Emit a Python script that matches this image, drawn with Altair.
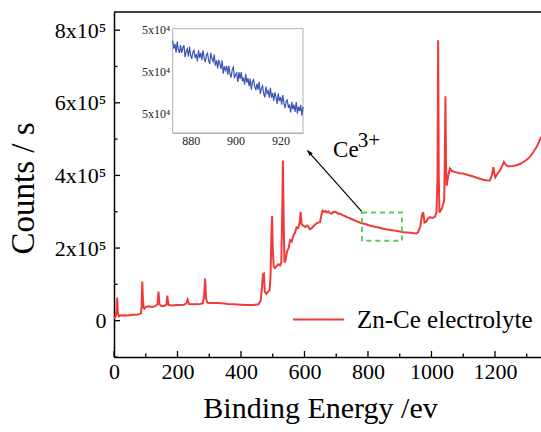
import altair as alt
import pandas as pd

# ---------------- data ----------------
series_name = "Zn-Ce electrolyte"

energy = [0, 3, 6, 8, 10, 12, 15, 20, 30, 40, 50, 60, 70, 80, 85, 87, 89, 91, 93, 96,
          100, 110, 120, 130, 137, 140, 143, 150, 160, 165, 168, 171, 180, 200, 220, 228,
          232, 236, 250, 270, 280, 284, 287, 290, 294, 300, 320, 340, 360, 380, 400, 420,
          440, 455, 462, 466, 469, 472, 475, 480, 485, 490, 493, 496, 498, 500, 503, 507,
          512, 518, 523, 527, 530, 532, 534, 537, 540, 545, 550, 555, 560, 565, 570, 575,
          580, 585, 588, 591, 596, 602, 608, 612, 617, 622, 628, 633, 638, 644, 649, 653,
          657, 662, 666, 670, 675, 680, 686, 690, 695, 701, 706, 712, 717, 722, 728, 733,
          740, 748, 756, 764, 772, 780, 788, 796, 805, 815, 825, 838, 848, 860, 872, 884,
          896, 908, 920, 935, 945, 953, 958, 965, 970, 974, 978, 983, 988, 995, 1003, 1011,
          1016, 1019, 1021, 1023, 1025, 1027, 1033, 1040, 1042, 1044, 1046, 1048, 1052,
          1058, 1065, 1075, 1090, 1100, 1115, 1132, 1148, 1163, 1175, 1184, 1190, 1195,
          1198, 1201, 1208, 1216, 1222, 1228, 1235, 1242, 1255, 1268, 1280, 1289, 1300,
          1310, 1320, 1331, 1340, 1345]
counts = [5e3, 8e3, 15e3, 25e3, 64e3, 22e3, 12e3, 14e3, 15e3, 14e3, 15e3, 16e3, 16e3, 18e3,
          20e3, 40e3, 108e3, 60e3, 36e3, 33e3,
          38e3, 40e3, 38e3, 40e3, 45e3, 80e3, 45e3, 40e3, 41e3, 45e3, 69e3, 44e3, 42e3, 43e3,
          44e3, 48e3,
          58e3, 46e3, 45e3, 46e3, 48e3, 70e3, 116e3, 60e3, 50e3, 49e3, 49e3, 48e3, 46e3, 45e3,
          44e3, 43e3,
          43e3, 45e3, 55e3, 90e3, 128e3, 130e3, 80e3, 74e3, 80e3, 83e3, 120e3, 240e3, 288e3,
          200e3, 150e3, 145e3,
          150e3, 155e3, 152e3, 160e3, 300e3, 441e3, 300e3, 160e3, 165e3, 190e3, 200e3, 222e3,
          218e3, 234e3, 242e3, 257e3,
          255e3, 270e3, 300e3, 265e3, 262e3, 258e3, 262e3, 259e3, 252e3, 254e3, 260e3, 264e3,
          268e3, 270e3, 271e3, 290e3,
          303e3, 300e3, 302e3, 298e3, 301e3, 296e3, 295e3, 299e3, 300e3, 299e3, 294e3, 295e3,
          292e3, 290e3, 288e3, 285e3,
          283e3, 280e3, 277e3, 274e3, 271e3, 268e3, 267e3, 265e3, 262e3, 260e3, 258e3, 256e3,
          253e3, 251e3, 250e3, 248e3,
          246e3, 244e3, 243e3, 242e3, 241e3, 240e3, 244e3, 260e3, 290e3, 299e3, 270e3, 272e3,
          280e3, 285e3, 283e3, 286e3,
          300e3, 400e3, 772e3, 400e3, 300e3, 300e3, 310e3, 330e3, 450e3, 618e3, 420e3, 372e3,
          395e3,
          419e3, 412e3, 409e3, 406e3, 405e3, 401e3, 397e3, 392e3, 388e3, 386e3, 386e3, 400e3,
          423e3,
          405e3, 395e3, 405e3, 414e3, 425e3, 437e3, 428e3, 425e3, 426e3, 428e3, 432e3, 437e3,
          443e3,
          451e3, 463e3, 478e3, 495e3, 506e3]

# inset (zoom of 872-930 eV), values in units of 1e4 counts
inset_start = 872.0
inset_step = 0.5
inset_counts = [5.347, 5.310, 5.333, 5.291, 5.344, 5.307, 5.289, 5.327, 5.290, 5.313,
                5.326, 5.269, 5.297, 5.310, 5.272, 5.320, 5.278, 5.261, 5.294, 5.302,
                5.265, 5.284, 5.248, 5.302, 5.266, 5.290, 5.254, 5.302, 5.266, 5.245,
                5.279, 5.288, 5.252, 5.236, 5.290, 5.261, 5.247, 5.282, 5.228, 5.254,
                5.215, 5.256, 5.237, 5.213, 5.254, 5.190, 5.225, 5.206, 5.227, 5.185,
                5.227, 5.189, 5.171, 5.209, 5.221, 5.168, 5.185, 5.193, 5.150, 5.197,
                5.164, 5.197, 5.154, 5.171, 5.137, 5.189, 5.146, 5.168, 5.129, 5.166,
                5.113, 5.150, 5.161, 5.128, 5.110, 5.142, 5.113, 5.150, 5.092, 5.119,
                5.131, 5.094, 5.076, 5.128, 5.095, 5.107, 5.074, 5.122, 5.074, 5.096,
                5.058, 5.100, 5.077, 5.044, 5.095, 5.057, 5.078, 5.040, 5.086, 5.048,
                5.024, 5.056, 5.063, 5.025, 5.041, 5.003, 5.054, 5.018, 5.041, 5.005,
                5.053, 4.997, 5.031, 5.010, 5.038, 4.987, 5.030]
inset_energy = [inset_start + inset_step * i for i in range(len(inset_counts))]

inset_x_domain = [872, 930]
inset_y_domain = [4.904, 5.406]
inset_x_ticks = [880, 900, 920]
inset_y_ticks = [5.0, 5.2, 5.4]

x_domain = [0, 1345]
y_domain = [-1e5, 8.5e5]
x_major_ticks = [0, 200, 400, 600, 800, 1000, 1200]
x_minor_ticks = [100, 300, 500, 700, 900, 1100, 1300]
y_major_ticks = [0, 2e5, 4e5, 6e5, 8e5]
y_minor_ticks = [-1e5, 1e5, 3e5, 5e5, 7e5]

box_x = [781, 907]
box_y = [220e3, 298e3]
arrow_start = [780, 301e3]
arrow_tip = [609, 469e3]
ce_label = ["Ce", 690, 450e3]
ce_sup = ["3+", 768, 477e3]

# ---------------- styles ----------------
W, H = 427, 345
FONT = "Liberation Serif"
RED = "#f03a3a"
BLUE = "#3c55b4"
GREEN = "#5ccc5c"

main_df = pd.DataFrame({"x": energy, "y": counts, "series": series_name})
inset_df = pd.DataFrame({"x": inset_energy, "y": inset_counts})

xs = alt.Scale(domain=x_domain, nice=False, zero=False)
ys = alt.Scale(domain=y_domain, nice=False, zero=False)

x_axis = alt.Axis(values=x_major_ticks, ticks=False, grid=False, labelFontSize=22,
                  labelPadding=4, labelFont=FONT, labelColor="black", domainColor="black",
                  domainWidth=1.5, labelExpr="format(datum.value, 'd')",
                  title="Binding Energy /ev", titleFont=FONT,
                  titleFontSize=30, titleFontWeight="normal", titleColor="black",
                  titleX=206, titleY=60, titleBaseline="alphabetic", titleAlign="center",
                  labelFlush=False)
y_axis = alt.Axis(values=y_major_ticks, ticks=False, grid=False, labelFontSize=22,
                  labelPadding=8, labelFont=FONT, labelColor="black", domainColor="black",
                  domainWidth=1.5,
                  labelExpr="datum.value == 0 ? '0' : format(datum.value / 100000, 'd') + 'x10⁵'",
                  title="Counts / s", titleFont=FONT, titleFontSize=33,
                  titleFontWeight="normal", titleColor="black", titleX=-81, titleY=176,
                  titleBaseline="alphabetic", titleAlign="center", titleAngle=270)

X = alt.X("x:Q", scale=xs, axis=x_axis)
Y = alt.Y("y:Q", scale=ys, axis=y_axis)

main_line = alt.Chart(main_df).mark_line(strokeWidth=2, clip=True).encode(
    x=X, y=Y,
    color=alt.Color("series:N", scale=alt.Scale(domain=[series_name], range=[RED]),
                    legend=alt.Legend(orient="none", legendX=178, legendY=281,
                                      symbolType="stroke", symbolSize=2600,
                                      symbolStrokeWidth=2, labelFontSize=25,
                                      labelFont=FONT, labelColor="black", labelOffset=12,
                                      labelLimit=400, title=None, padding=0)),
)

x_major_df = pd.DataFrame({"x": x_major_ticks})
x_minor_df = pd.DataFrame({"x": x_minor_ticks})
y_major_df = pd.DataFrame({"y": y_major_ticks})
y_minor_df = pd.DataFrame({"y": y_minor_ticks})

x_ticks_major = alt.Chart(x_major_df).mark_rule(color="black", strokeWidth=1.3).encode(
    x=X, y=alt.value(H), y2=alt.value(H - 6))
x_ticks_minor = alt.Chart(x_minor_df).mark_rule(color="black", strokeWidth=1.3).encode(
    x=X, y=alt.value(H), y2=alt.value(H - 3.5))
y_ticks_major = alt.Chart(y_major_df).mark_rule(color="black", strokeWidth=1.3).encode(
    y=Y, x=alt.value(0), x2=alt.value(6))
y_ticks_minor = alt.Chart(y_minor_df).mark_rule(color="black", strokeWidth=1.3).encode(
    y=Y, x=alt.value(0), x2=alt.value(3.5))

top_border = alt.Chart(pd.DataFrame({"a": [0]})).mark_rule(color="black", strokeWidth=1.5).encode(
    x=alt.value(0), x2=alt.value(W), y=alt.value(0))

box_df = pd.DataFrame({"x": [box_x[0]], "x2": [box_x[1]], "y": [box_y[0]], "y2": [box_y[1]]})
box = alt.Chart(box_df).mark_rect(fillOpacity=0, stroke=GREEN, strokeWidth=2,
                                  strokeDash=[5, 4]).encode(
    x=X, x2="x2:Q", y=Y, y2="y2:Q")

arrow_df = pd.DataFrame({"x": [arrow_start[0]], "y": [arrow_start[1]],
                         "x2": [arrow_tip[0]], "y2": [arrow_tip[1]]})
arrow_line = alt.Chart(arrow_df).mark_rule(color="black", strokeWidth=1.2).encode(
    x=X, y=Y, x2="x2:Q", y2="y2:Q")
head_df = pd.DataFrame({"x": [arrow_tip[0]], "y": [arrow_tip[1]]})
arrow_head = alt.Chart(head_df).mark_point(shape="M0,0 L-0.38,1 L0.38,1 Z", filled=True,
                                           size=130, color="black", opacity=1,
                                           angle=318).encode(x=X, y=Y)

ce_df = pd.DataFrame({"t": [ce_label[0]], "x": [ce_label[1]], "y": [ce_label[2]]})
sup_df = pd.DataFrame({"t": [ce_sup[0]], "x": [ce_sup[1]], "y": [ce_sup[2]]})
ce_text = alt.Chart(ce_df).mark_text(font=FONT, fontSize=23, align="left",
                                     baseline="alphabetic", color="black").encode(
    x=X, y=Y, text="t:N")
sup_text = alt.Chart(sup_df).mark_text(font=FONT, fontSize=21, align="left",
                                       baseline="alphabetic", color="black").encode(
    x=X, y=Y, text="t:N")

main_layer = alt.layer(main_line, x_ticks_major, x_ticks_minor, y_ticks_major,
                       y_ticks_minor, top_border, box, arrow_line, arrow_head,
                       ce_text, sup_text)

# ---------------- inset ----------------
ixs = alt.Scale(domain=inset_x_domain, range=[58.7, 189], nice=False, zero=False)
iys = alt.Scale(domain=inset_y_domain, range=[121, 16.7], nice=False, zero=False)

ix_axis = alt.Axis(orient="bottom", offset=-224, values=inset_x_ticks, ticks=False,
                   grid=False, labelFontSize=12, labelFont=FONT, labelColor="#222222",
                   labelPadding=2, domainColor="#b0b0b0", domainWidth=1, title=None,
                   labelExpr="format(datum.value, 'd')", labelFlush=False)
iy_axis = alt.Axis(orient="left", offset=-58.7, values=inset_y_ticks, ticks=False,
                   grid=False, labelFontSize=12, labelFont=FONT, labelColor="#222222",
                   labelPadding=3, domainColor="#b0b0b0", domainWidth=1, title=None,
                   labelExpr="'5x10⁴'", labelFlush=False)
IX = alt.X("x:Q", scale=ixs, axis=ix_axis)
IY = alt.Y("y:Q", scale=iys, axis=iy_axis)

frame_df = pd.DataFrame({"x": [inset_x_domain[0]], "x2": [inset_x_domain[1]],
                         "y": [inset_y_domain[0]], "y2": [inset_y_domain[1]]})
inset_frame = alt.Chart(frame_df).mark_rect(fill="white", stroke="#b0b0b0",
                                            strokeWidth=1).encode(
    x=IX, x2="x2:Q", y=IY, y2="y2:Q")
inset_line = alt.Chart(inset_df).mark_line(color=BLUE, strokeWidth=1.2).encode(x=IX, y=IY)

inset_layer = alt.layer(inset_frame, inset_line)

chart = alt.layer(main_layer, inset_layer).resolve_scale(
    x="independent", y="independent"
).properties(
    width=W, height=H,
    autosize=alt.AutoSizeParams(type="none"),
    padding={"left": 114, "top": 12, "right": 0, "bottom": 75},
    background="white",
).configure(
    font=FONT
).configure_view(strokeWidth=0)

chart.save("out.html", embed_options={"renderer": "svg", "actions": False})
